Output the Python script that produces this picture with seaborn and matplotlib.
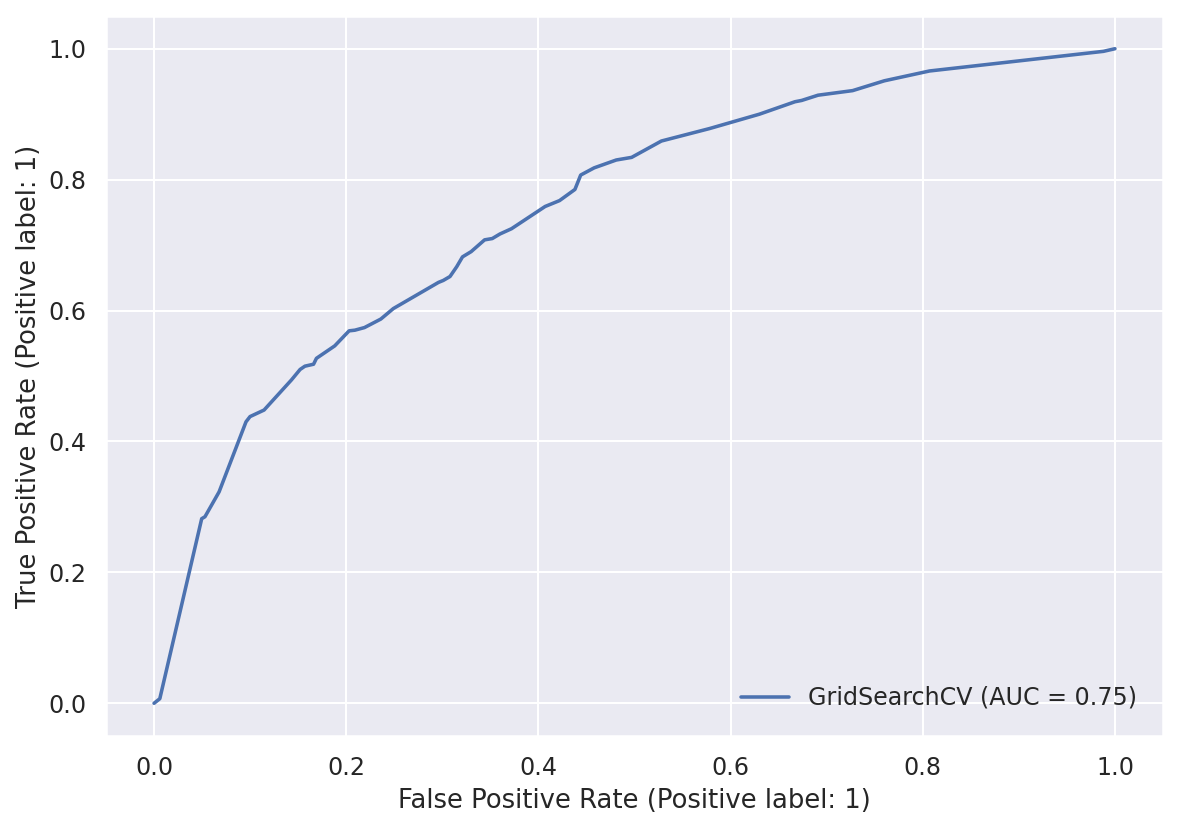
import matplotlib
matplotlib.use("Agg")
import matplotlib.pyplot as plt
import seaborn as sns
import pandas as pd

fpr = [0.0, 0.006, 0.0496, 0.053, 0.0677, 0.0957, 0.0999, 0.1145, 0.143, 0.152,
       0.157, 0.166, 0.169, 0.188, 0.203, 0.209, 0.219, 0.236, 0.249, 0.296,
       0.301, 0.308, 0.315, 0.321, 0.330, 0.344, 0.352, 0.360, 0.372, 0.407,
       0.422, 0.438, 0.444, 0.458, 0.481, 0.497, 0.528, 0.578, 0.630, 0.667,
       0.674, 0.691, 0.727, 0.760, 0.807, 0.988, 1.0]
tpr = [0.0, 0.007, 0.282, 0.285, 0.323, 0.430, 0.438, 0.448, 0.494, 0.510,
       0.515, 0.518, 0.527, 0.546, 0.569, 0.570, 0.574, 0.587, 0.603, 0.643,
       0.646, 0.652, 0.667, 0.682, 0.690, 0.708, 0.710, 0.717, 0.725, 0.759,
       0.768, 0.785, 0.807, 0.818, 0.830, 0.834, 0.859, 0.878, 0.900, 0.919,
       0.921, 0.929, 0.936, 0.951, 0.966, 0.996, 1.0]
label = "GridSearchCV (AUC = 0.75)"

sns.set_theme(style="darkgrid", font_scale=1.035)
df = pd.DataFrame({"fpr": fpr, "tpr": tpr})

fig, ax = plt.subplots(figsize=(1177 / 150, 829 / 150), dpi=150)
fig.subplots_adjust(left=106 / 1177, right=1163 / 1177, top=1 - 16 / 829, bottom=1 - 736 / 829)
sns.lineplot(data=df, x="fpr", y="tpr", ax=ax, sort=False, estimator=None,
             label=label, linewidth=1.7, color=sns.color_palette()[0])
ax.set_xlim(-0.05, 1.05)
ax.set_ylim(-0.05, 1.05)
ax.set_xticks([0.0, 0.2, 0.4, 0.6, 0.8, 1.0])
ax.set_yticks([0.0, 0.2, 0.4, 0.6, 0.8, 1.0])
ax.set_xlabel("False Positive Rate (Positive label: 1)")
ax.set_ylabel("True Positive Rate (Positive label: 1)", labelpad=3)
ax.legend(loc="lower right", frameon=False, borderaxespad=0.7)
fig.savefig("out.png", dpi=150)
